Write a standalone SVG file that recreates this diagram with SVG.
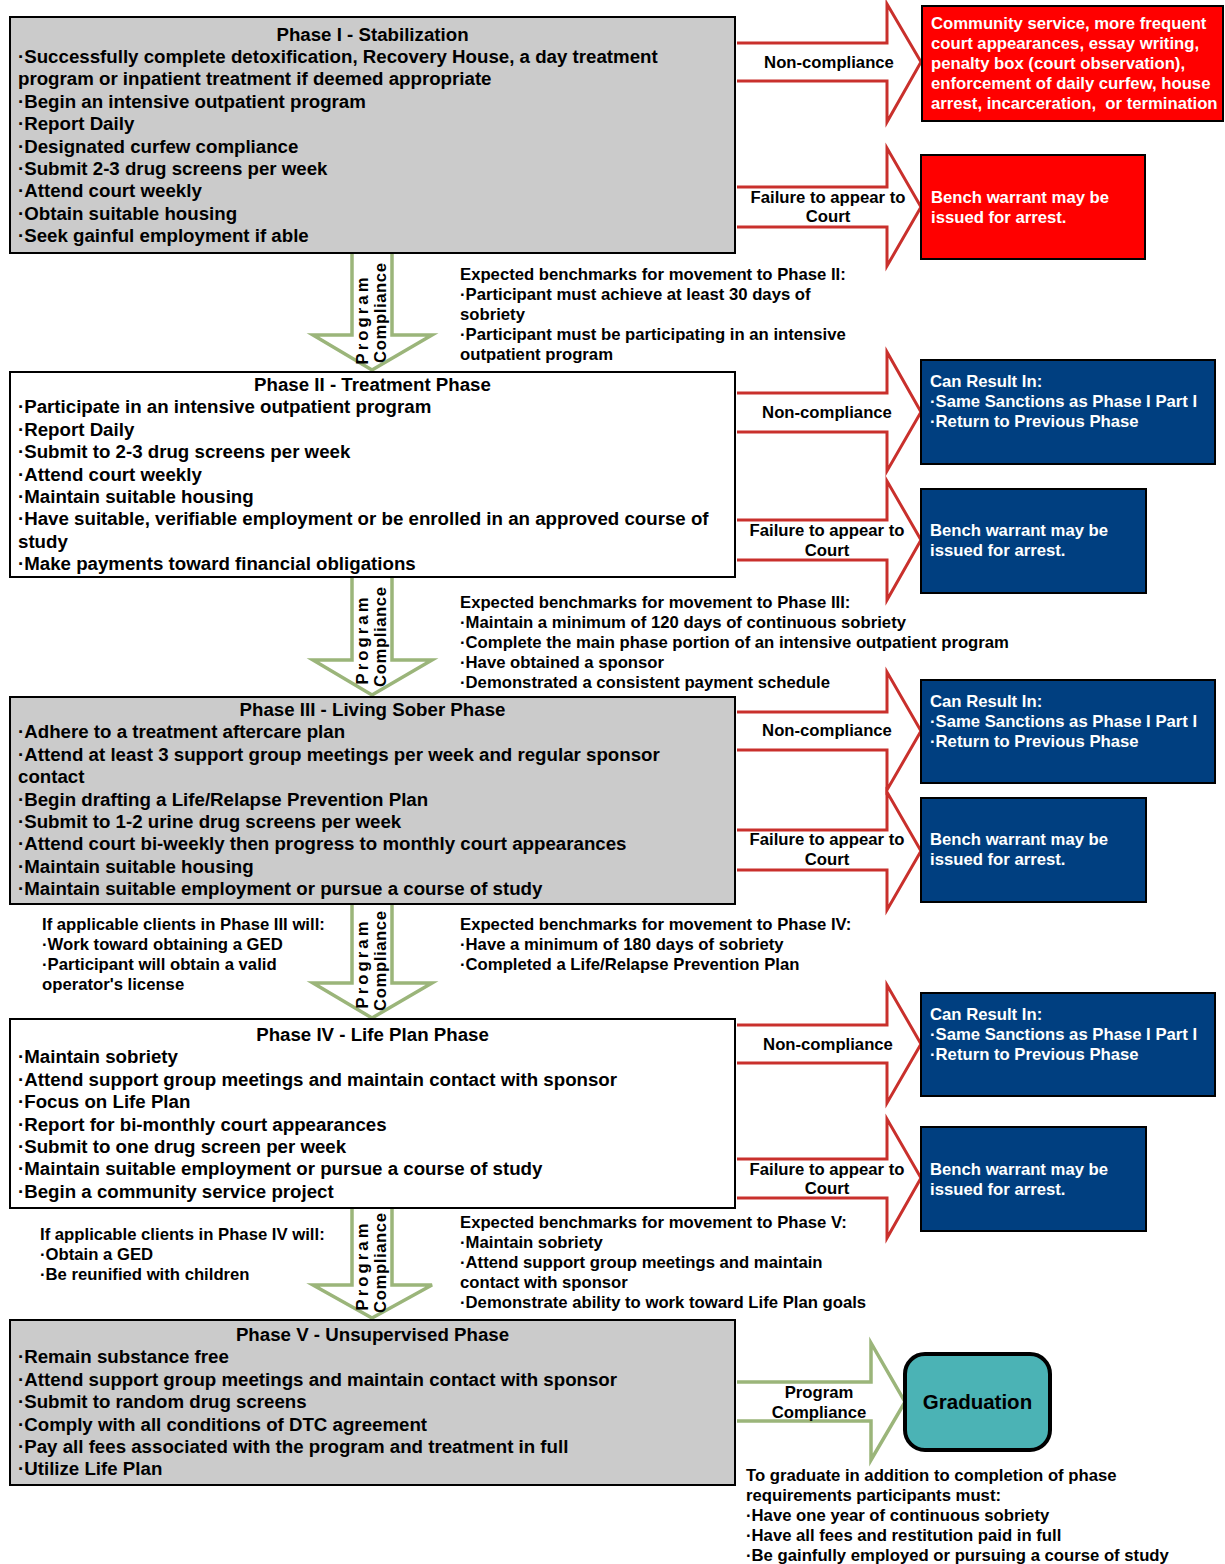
<svg xmlns="http://www.w3.org/2000/svg" width="1225" height="1564" viewBox="0 0 1225 1564">
<style>
text{font-family:"Liberation Sans",Arial,sans-serif;font-weight:bold;fill:#000}
.b{font-size:18.7px}
.s{font-size:16.7px}
.w{fill:#fff}
.m{text-anchor:middle}
.phase{stroke:#000;stroke-width:2}
.gray{fill:#cbcbcb}
.white{fill:#fff}
.red{fill:#ff0000;stroke:#000;stroke-width:2}
.blue{fill:#003f80;stroke:#000;stroke-width:2}
.ra{fill:#fff;stroke:#c9302c;stroke-width:3;stroke-linejoin:miter}
.ga{fill:#fff;stroke:#9bb57a;stroke-width:3.5;stroke-linejoin:miter}
.grad{fill:#4bb3b5;stroke:#000;stroke-width:4}
</style>
<rect width="1225" height="1564" fill="#fff"/>

<g id="connectors">
  <!-- Phase I -->
  <path class="ra" d="M737,43 H887 V4 L921,62 L887,122 V81 H737"/>
  <text class="s m" x="829" y="68">Non-compliance</text>
  <path class="ra" d="M737,187 H887 V148 L921,207 L887,266 V227 H737"/>
  <text class="s m" x="828" y="203">Failure to appear to</text>
  <text class="s m" x="828" y="222">Court</text>
  <!-- Phase II -->
  <path class="ra" d="M737,393 H887 V352 L921,412 L887,471 V432 H737"/>
  <text class="s m" x="827" y="418">Non-compliance</text>
  <path class="ra" d="M737,520 H887 V481 L921,540 L887,600 V560 H737"/>
  <text class="s m" x="827" y="536">Failure to appear to</text>
  <text class="s m" x="827" y="556">Court</text>
  <!-- Phase III -->
  <path class="ra" d="M737,712 H887 V672 L921,731 L887,790 V750 H737"/>
  <text class="s m" x="827" y="736">Non-compliance</text>
  <path class="ra" d="M737,830 H887 V792 L921,851 L887,910 V870 H737"/>
  <text class="s m" x="827" y="845">Failure to appear to</text>
  <text class="s m" x="827" y="865">Court</text>
  <!-- Phase IV -->
  <path class="ra" d="M737,1025 H887 V985 L921,1044 L887,1103 V1063 H737"/>
  <text class="s m" x="828" y="1050">Non-compliance</text>
  <path class="ra" d="M737,1159 H887 V1119 L921,1178 L887,1238 V1198 H737"/>
  <text class="s m" x="827" y="1175">Failure to appear to</text>
  <text class="s m" x="827" y="1194">Court</text>
  <!-- Graduation arrow -->
  <path class="ga" d="M737,1382 H871 V1343 L905,1402 L871,1460 V1421 H737"/>
  <text class="s m" x="819" y="1398">Program</text>
  <text class="s m" x="819" y="1418">Compliance</text>
  <!-- Down arrows -->
  <path class="ga" d="M352,254 V335 H313 L372,370 L432,335 H392 V254"/>
  <text class="s m" transform="translate(368,321) rotate(-90)" textLength="87" lengthAdjust="spacing">Program</text>
  <text class="s m" transform="translate(386,313) rotate(-90)" textLength="100" lengthAdjust="spacing">Compliance</text>
  <path class="ga" d="M352,578 V660 H313 L372,695 L432,660 H392 V578"/>
  <text class="s m" transform="translate(368,641) rotate(-90)" textLength="87" lengthAdjust="spacing">Program</text>
  <text class="s m" transform="translate(386,637) rotate(-90)" textLength="100" lengthAdjust="spacing">Compliance</text>
  <path class="ga" d="M352,905 V983 H313 L372,1018 L432,983 H392 V905"/>
  <text class="s m" transform="translate(368,965) rotate(-90)" textLength="87" lengthAdjust="spacing">Program</text>
  <text class="s m" transform="translate(386,961) rotate(-90)" textLength="100" lengthAdjust="spacing">Compliance</text>
  <path class="ga" d="M352,1209 V1285 H313 L372,1318 L432,1285 H392 V1209"/>
  <text class="s m" transform="translate(368,1267) rotate(-90)" textLength="87" lengthAdjust="spacing">Program</text>
  <text class="s m" transform="translate(386,1263) rotate(-90)" textLength="100" lengthAdjust="spacing">Compliance</text>
</g>

<g id="phase1">
  <rect class="phase gray" x="10" y="17" width="725" height="236"/>
  <text class="b m" x="372.5" y="40.5">Phase I - Stabilization</text>
  <text class="b" x="18" y="62.9">·Successfully complete detoxification, Recovery House, a day treatment</text>
  <text class="b" x="18" y="85.3">program or inpatient treatment if deemed appropriate</text>
  <text class="b" x="18" y="107.7">·Begin an intensive outpatient program</text>
  <text class="b" x="18" y="130.1">·Report Daily</text>
  <text class="b" x="18" y="152.5">·Designated curfew compliance</text>
  <text class="b" x="18" y="174.9">·Submit 2-3 drug screens per week</text>
  <text class="b" x="18" y="197.3">·Attend court weekly</text>
  <text class="b" x="18" y="219.7">·Obtain suitable housing</text>
  <text class="b" x="18" y="242.1">·Seek gainful employment if able</text>
</g>

<g id="sanction1">
  <rect class="red" x="922" y="6" width="301" height="115"/>
  <text class="s w" x="931" y="29">Community service, more frequent</text>
  <text class="s w" x="931" y="49">court appearances, essay writing,</text>
  <text class="s w" x="931" y="69">penalty box (court observation),</text>
  <text class="s w" x="931" y="89">enforcement of daily curfew, house</text>
  <text class="s w" x="931" y="109" xml:space="preserve">arrest, incarceration,  or termination</text>
</g>
<g id="warrant1">
  <rect class="red" x="921" y="155" width="224" height="104"/>
  <text class="s w" x="931" y="203">Bench warrant may be</text>
  <text class="s w" x="931" y="223">issued for arrest.</text>
</g>

<g id="bench2">
  <text class="s" x="460" y="280">Expected benchmarks for movement to Phase II:</text>
  <text class="s" x="460" y="300">·Participant must achieve at least 30 days of</text>
  <text class="s" x="460" y="320">sobriety</text>
  <text class="s" x="460" y="340">·Participant must be participating in an intensive</text>
  <text class="s" x="460" y="360">outpatient program</text>
</g>

<g id="phase2">
  <rect class="phase white" x="10" y="372" width="725" height="205"/>
  <text class="b m" x="372.5" y="391">Phase II - Treatment Phase</text>
  <text class="b" x="18" y="413.4">·Participate in an intensive outpatient program</text>
  <text class="b" x="18" y="435.8">·Report Daily</text>
  <text class="b" x="18" y="458.2">·Submit to 2-3 drug screens per week</text>
  <text class="b" x="18" y="480.6">·Attend court weekly</text>
  <text class="b" x="18" y="503">·Maintain suitable housing</text>
  <text class="b" x="18" y="525.4">·Have suitable, verifiable employment or be enrolled in an approved course of</text>
  <text class="b" x="18" y="547.8">study</text>
  <text class="b" x="18" y="570.2">·Make payments toward financial obligations</text>
</g>
<g id="result2">
  <rect class="blue" x="921" y="360" width="294" height="104"/>
  <text class="s w" x="930" y="387">Can Result In:</text>
  <text class="s w" x="930" y="407">·Same Sanctions as Phase I Part I</text>
  <text class="s w" x="930" y="427">·Return to Previous Phase</text>
</g>
<g id="warrant2">
  <rect class="blue" x="921" y="489" width="225" height="104"/>
  <text class="s w" x="930" y="536">Bench warrant may be</text>
  <text class="s w" x="930" y="556">issued for arrest.</text>
</g>

<g id="bench3">
  <text class="s" x="460" y="608">Expected benchmarks for movement to Phase III:</text>
  <text class="s" x="460" y="628">·Maintain a minimum of 120 days of continuous sobriety</text>
  <text class="s" x="460" y="648">·Complete the main phase portion of an intensive outpatient program</text>
  <text class="s" x="460" y="668">·Have obtained a sponsor</text>
  <text class="s" x="460" y="688">·Demonstrated a consistent payment schedule</text>
</g>

<g id="phase3">
  <rect class="phase gray" x="10" y="697" width="725" height="207"/>
  <text class="b m" x="372.5" y="716">Phase III - Living Sober Phase</text>
  <text class="b" x="18" y="738.4">·Adhere to a treatment aftercare plan</text>
  <text class="b" x="18" y="760.8">·Attend at least 3 support group meetings per week and regular sponsor</text>
  <text class="b" x="18" y="783.2">contact</text>
  <text class="b" x="18" y="805.6">·Begin drafting a Life/Relapse Prevention Plan</text>
  <text class="b" x="18" y="828">·Submit to 1-2 urine drug screens per week</text>
  <text class="b" x="18" y="850.4">·Attend court bi-weekly then progress to monthly court appearances</text>
  <text class="b" x="18" y="872.8">·Maintain suitable housing</text>
  <text class="b" x="18" y="895.2">·Maintain suitable employment or pursue a course of study</text>
</g>
<g id="result3">
  <rect class="blue" x="921" y="680" width="294" height="103"/>
  <text class="s w" x="930" y="707">Can Result In:</text>
  <text class="s w" x="930" y="727">·Same Sanctions as Phase I Part I</text>
  <text class="s w" x="930" y="747">·Return to Previous Phase</text>
</g>
<g id="warrant3">
  <rect class="blue" x="921" y="798" width="225" height="104"/>
  <text class="s w" x="930" y="845">Bench warrant may be</text>
  <text class="s w" x="930" y="865">issued for arrest.</text>
</g>

<g id="note3">
  <text class="s" x="42" y="930">If applicable clients in Phase III will:</text>
  <text class="s" x="42" y="950">·Work toward obtaining a GED</text>
  <text class="s" x="42" y="970">·Participant will obtain a valid</text>
  <text class="s" x="42" y="990">operator's license</text>
</g>
<g id="bench4">
  <text class="s" x="460" y="930">Expected benchmarks for movement to Phase IV:</text>
  <text class="s" x="460" y="950">·Have a minimum of 180 days of sobriety</text>
  <text class="s" x="460" y="970">·Completed a Life/Relapse Prevention Plan</text>
</g>

<g id="phase4">
  <rect class="phase white" x="10" y="1019" width="725" height="189"/>
  <text class="b m" x="372.5" y="1041">Phase IV - Life Plan Phase</text>
  <text class="b" x="18" y="1063.4">·Maintain sobriety</text>
  <text class="b" x="18" y="1085.8">·Attend support group meetings and maintain contact with sponsor</text>
  <text class="b" x="18" y="1108.2">·Focus on Life Plan</text>
  <text class="b" x="18" y="1130.6">·Report for bi-monthly court appearances</text>
  <text class="b" x="18" y="1153">·Submit to one drug screen per week</text>
  <text class="b" x="18" y="1175.4">·Maintain suitable employment or pursue a course of study</text>
  <text class="b" x="18" y="1197.8">·Begin a community service project</text>
</g>
<g id="result4">
  <rect class="blue" x="921" y="993" width="294" height="103"/>
  <text class="s w" x="930" y="1020">Can Result In:</text>
  <text class="s w" x="930" y="1040">·Same Sanctions as Phase I Part I</text>
  <text class="s w" x="930" y="1060">·Return to Previous Phase</text>
</g>
<g id="warrant4">
  <rect class="blue" x="921" y="1127" width="225" height="104"/>
  <text class="s w" x="930" y="1175">Bench warrant may be</text>
  <text class="s w" x="930" y="1195">issued for arrest.</text>
</g>

<g id="note4">
  <text class="s" x="40" y="1240">If applicable clients in Phase IV will:</text>
  <text class="s" x="40" y="1260">·Obtain a GED</text>
  <text class="s" x="40" y="1280">·Be reunified with children</text>
</g>
<g id="bench5">
  <text class="s" x="460" y="1228">Expected benchmarks for movement to Phase V:</text>
  <text class="s" x="460" y="1248">·Maintain sobriety</text>
  <text class="s" x="460" y="1268">·Attend support group meetings and maintain</text>
  <text class="s" x="460" y="1288">contact with sponsor</text>
  <text class="s" x="460" y="1308">·Demonstrate ability to work toward Life Plan goals</text>
</g>

<g id="phase5">
  <rect class="phase gray" x="10" y="1320" width="725" height="165"/>
  <text class="b m" x="372.5" y="1341">Phase V - Unsupervised Phase</text>
  <text class="b" x="18" y="1363.4">·Remain substance free</text>
  <text class="b" x="18" y="1385.8">·Attend support group meetings and maintain contact with sponsor</text>
  <text class="b" x="18" y="1408.2">·Submit to random drug screens</text>
  <text class="b" x="18" y="1430.6">·Comply with all conditions of DTC agreement</text>
  <text class="b" x="18" y="1453">·Pay all fees associated with the program and treatment in full</text>
  <text class="b" x="18" y="1475.4">·Utilize Life Plan</text>
</g>

<g id="graduation">
  <rect class="grad" x="905" y="1354" width="145" height="96" rx="20" ry="20"/>
  <text class="m" x="977.5" y="1409" style="font-size:20.5px">Graduation</text>
</g>
<g id="gradnote">
  <text class="s" x="746" y="1481">To graduate in addition to completion of phase</text>
  <text class="s" x="746" y="1501">requirements participants must:</text>
  <text class="s" x="746" y="1521">·Have one year of continuous sobriety</text>
  <text class="s" x="746" y="1541">·Have all fees and restitution paid in full</text>
  <text class="s" x="746" y="1561">·Be gainfully employed or pursuing a course of study</text>
</g>
</svg>
